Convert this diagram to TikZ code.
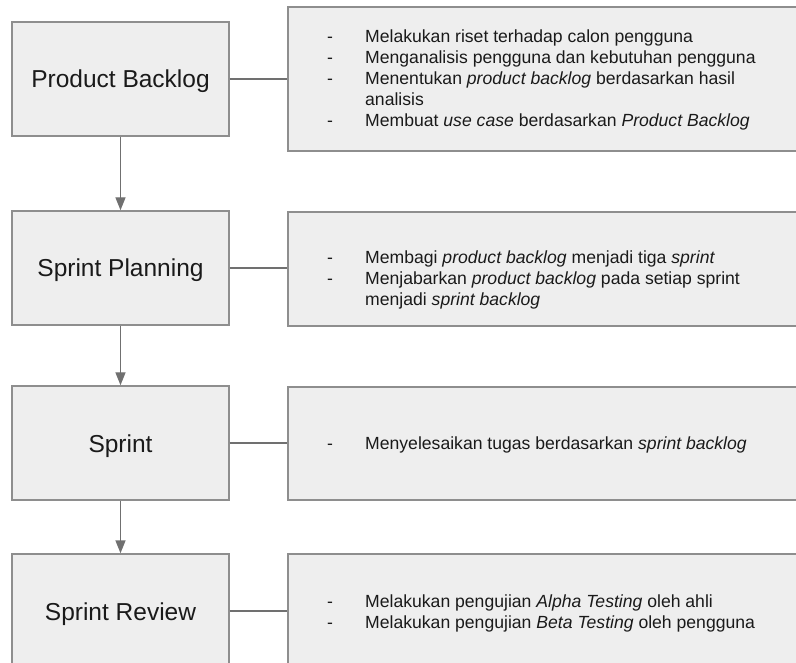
\documentclass[tikz,border=0pt]{standalone}
\usepackage{fontspec}
\setmainfont{Liberation Sans}
\usetikzlibrary{arrows.meta}
\definecolor{boxfill}{HTML}{EEEEEE}
\definecolor{boxline}{HTML}{8E8E8E}
\definecolor{conn}{HTML}{707070}
\definecolor{txt}{HTML}{1A1A1A}
\tikzset{
  stage/.style={draw=boxline, fill=boxfill, line width=1.4pt, minimum width=217pt, minimum height=114pt,
    inner sep=0pt, text height=18pt, text depth=0pt, text=txt, font=\fontsize{24.5}{29}\selectfont},
  detail/.style={draw=boxline, fill=boxfill, line width=1.4pt, minimum width=540pt, inner sep=0pt},
  dashmark/.style={anchor=base west, inner sep=0pt, text=txt, font=\fontsize{17.6}{21}\selectfont},
  itemtext/.style={anchor=base west, inner sep=0pt, text=txt, font=\fontsize{17.6}{21}\selectfont},
  flow/.style={draw=conn, line width=1.4pt, -{Triangle[width=10pt,length=13pt]}},
  link/.style={draw=conn, line width=1.4pt},
}
\begin{document}
\begin{tikzpicture}[x=1pt,y=-1pt]
\useasboundingbox (0,0) rectangle (796,663);
\clip (0,0) rectangle (796,663);
% left stages
\node[stage] (b1) at (120.5,79) {Product Backlog};
\node[stage] (b2) at (120.5,268) {Sprint Planning};
\node[stage] (b3) at (120.5,443) {Sprint};
\node[stage] (b4) at (120.5,611) {Sprint Review};
% right detail boxes
\node[detail, minimum height=144pt] (r1) at (558,79) {};
\node[detail, minimum height=114pt] (r2) at (558,269) {};
\node[detail, minimum height=113pt] (r3) at (558,443.5) {};
\node[detail, minimum height=114pt] (r4) at (558,611) {};
% arrows
\draw[flow] (b1.south) -- (b2.north);
\draw[flow] (b2.south) -- (b3.north);
\draw[flow] (b3.south) -- (b4.north);
% links
\draw[link] (b1.east) -- (b1.east -| r1.west);
\draw[link] (b2.east) -- (b2.east -| r2.west);
\draw[link] (b3.east) -- (b3.east -| r3.west);
\draw[link] (b4.east) -- (b4.east -| r4.west);
% box 1 text
\node[dashmark] (d1a) at (327,43) {-};
\node[itemtext] (t1a) at (365,43) {Melakukan riset terhadap calon pengguna};
\node[dashmark] (d1b) at (327,64) {-};
\node[itemtext] (t1b) at (365,64) {Menganalisis pengguna dan kebutuhan pengguna};
\node[dashmark] (d1c) at (327,85) {-};
\node[itemtext] (t1c) at (365,85) {Menentukan \textit{product backlog} berdasarkan hasil};
\node[itemtext] (t1d) at (365,106) {analisis};
\node[dashmark] (d1e) at (327,127) {-};
\node[itemtext] (t1e) at (365,127) {Membuat \textit{use case} berdasarkan \textit{Product Backlog}};
% box 2 text
\node[dashmark] (d2a) at (327,264) {-};
\node[itemtext] (t2a) at (365,264) {Membagi \textit{product backlog} menjadi tiga \textit{sprint}};
\node[dashmark] (d2b) at (327,285) {-};
\node[itemtext] (t2b) at (365,285) {Menjabarkan \textit{product backlog} pada setiap sprint};
\node[itemtext] (t2c) at (365,306) {menjadi \textit{sprint backlog}};
% box 3 text
\node[dashmark] (d3a) at (327,449) {-};
\node[itemtext] (t3a) at (365,449) {Menyelesaikan tugas berdasarkan \textit{sprint backlog}};
% box 4 text
\node[dashmark] (d4a) at (327,607.5) {-};
\node[itemtext] (t4a) at (365,607.5) {Melakukan pengujian \textit{Alpha Testing} oleh ahli};
\node[dashmark] (d4b) at (327,628.5) {-};
\node[itemtext] (t4b) at (365,628.5) {Melakukan pengujian \textit{Beta Testing} oleh pengguna};
\end{tikzpicture}
\end{document}
